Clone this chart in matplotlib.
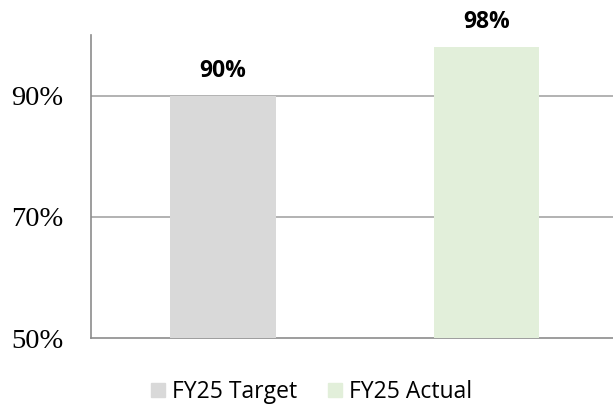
import matplotlib.pyplot as plt
from matplotlib.patches import Patch

categories = ["FY25 Target", "FY25 Actual"]
values = [90, 98]
colors = ["#d9d9d9", "#e2efda"]
yticks = [50, 70, 90]

fig = plt.figure(figsize=(6.13, 4.08), dpi=100)
ax = fig.add_axes([91 / 613, 1 - 338 / 408, 1 - 91 / 613, (338 - 35) / 408])

x = range(len(categories))
bars = ax.bar(x, values, width=0.4, color=colors, zorder=3)
ax.set_ylim(50, 100)
ax.set_xlim(-0.5, 1.48)

# value labels above the bars
for b, v in zip(bars, values):
    ax.text(b.get_x() + b.get_width() / 2, v + 3.1, f"{v}%", ha="center", va="baseline",
            fontsize=16.5, fontweight="bold", family="Open Sans", zorder=4)

ax.set_yticks(yticks)
ax.set_yticklabels([f"{t}%" for t in yticks], family="Liberation Serif", fontsize=20.5)
ax.tick_params(axis="y", length=0, pad=20)
ax.set_xticks([])
for t in yticks[1:]:
    ax.axhline(t, color="#a6a6a6", linewidth=1.2, zorder=1)

for s in ["top", "right"]:
    ax.spines[s].set_visible(False)
for s in ["left", "bottom"]:
    ax.spines[s].set_color("#8c8c8c")
    ax.spines[s].set_linewidth(1.2)

handles = [Patch(color=c, label=l) for c, l in zip(colors, categories)]
fig.legend(handles=handles, loc="center left", bbox_to_anchor=(151 / 613, 1 - 392 / 408), ncol=2,
           frameon=False, prop={"family": "Open Sans", "size": 16.5},
           borderpad=0, borderaxespad=0,
           handlelength=0.61, handleheight=0.61, handletextpad=0.3, columnspacing=1.35)

fig.savefig("out.png", dpi=100)
